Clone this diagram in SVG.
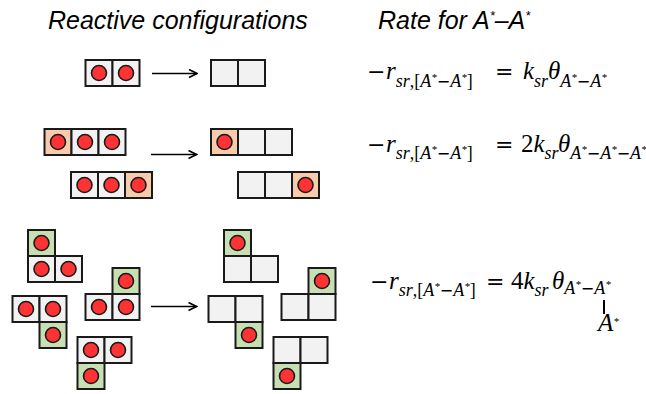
<svg xmlns="http://www.w3.org/2000/svg" width="646" height="394" viewBox="0 0 646 394">
  <defs>
    <style>
      .c { fill: #f2f2f2; stroke: #1a1a1a; stroke-width: 2; }
      .o { fill: #f8cbad; stroke: #1a1a1a; stroke-width: 2; }
      .g { fill: #c6e0b4; stroke: #1a1a1a; stroke-width: 2; }
      .d { fill: #ff3333; stroke: #1a1a1a; stroke-width: 1.6; }
      .arrow { stroke: #000; stroke-width: 1.6; fill: none; }
      .title { font-family: "Liberation Sans", Arial, sans-serif; font-style: italic; font-size: 25px; fill: #000; }
      .m { font-family: "Liberation Serif", "Times New Roman", serif; font-style: italic; font-size: 25px; fill: #000; }
      .up { font-style: normal; }
      .op { font-family: "DejaVu Sans", sans-serif; font-style: normal; font-size: 22px; }
      .sub { font-size: 18px; }
      .sub .op { font-size: 16px; }
      .st { font-size: 11px; }
      .bar { stroke: #000; stroke-width: 2; }
    </style>
    <marker id="head" viewBox="0 0 10 10" refX="9" refY="5" markerWidth="10" markerHeight="10" markerUnits="userSpaceOnUse" orient="auto">
      <path d="M1,1 L9,5 L1,9" fill="none" stroke="#000" stroke-width="1.6"/>
    </marker>
  </defs>

  <rect width="646" height="394" fill="#fff"/>

  <!-- column headings -->
  <text class="title" x="48" y="29">Reactive configurations</text>
  <text class="title" x="378" y="29">Rate for A<tspan font-size="13" dy="-9">*</tspan><tspan dy="9">–A</tspan><tspan font-size="13" dy="-9">*</tspan></text>

  <!-- row 1: pair -->
  <g id="pair-before">
    <rect class="c" x="85.5" y="60" width="27" height="26"/>
    <rect class="c" x="112.5" y="60" width="27" height="26"/>
    <circle class="d" cx="99" cy="73" r="7.5"/>
    <circle class="d" cx="126" cy="73" r="7.5"/>
  </g>
  <g id="pair-after">
    <rect class="c" x="211" y="60" width="27" height="26"/>
    <rect class="c" x="238" y="60" width="27" height="26"/>
  </g>

  <!-- row 2: chains of three -->
  <g id="chain-left-before">
    <rect class="o" x="44.5" y="129" width="27" height="26"/>
    <rect class="c" x="71.5" y="129" width="27" height="26"/>
    <rect class="c" x="98.5" y="129" width="27" height="26"/>
    <circle class="d" cx="58" cy="142" r="7.5"/>
    <circle class="d" cx="85" cy="142" r="7.5"/>
    <circle class="d" cx="112" cy="142" r="7.5"/>
  </g>
  <g id="chain-right-before">
    <rect class="c" x="71" y="172" width="27" height="26"/>
    <rect class="c" x="98" y="172" width="27" height="26"/>
    <rect class="o" x="125" y="172" width="27" height="26"/>
    <circle class="d" cx="84.5" cy="185" r="7.5"/>
    <circle class="d" cx="111.5" cy="185" r="7.5"/>
    <circle class="d" cx="138.5" cy="185" r="7.5"/>
  </g>
  <g id="chain-left-after">
    <rect class="o" x="211" y="129" width="27" height="26"/>
    <rect class="c" x="238" y="129" width="27" height="26"/>
    <rect class="c" x="265" y="129" width="27" height="26"/>
    <circle class="d" cx="224.5" cy="142" r="7.5"/>
  </g>
  <g id="chain-right-after">
    <rect class="c" x="238" y="172" width="27" height="26"/>
    <rect class="c" x="265" y="172" width="27" height="26"/>
    <rect class="o" x="292" y="172" width="27" height="26"/>
    <circle class="d" cx="305.5" cy="185" r="7.5"/>
  </g>

  <!-- row 3: L-shaped triples, before -->
  <g id="ell-1-before">
    <rect class="g" x="28" y="230" width="27" height="26"/>
    <rect class="c" x="28" y="256" width="27" height="26"/>
    <rect class="c" x="55" y="256" width="27" height="26"/>
    <circle class="d" cx="41.5" cy="243" r="7.5"/>
    <circle class="d" cx="41.5" cy="269" r="7.5"/>
    <circle class="d" cx="68.5" cy="269" r="7.5"/>
  </g>
  <g id="ell-2-before">
    <rect class="c" x="12.5" y="296" width="27" height="26"/>
    <rect class="c" x="39.5" y="296" width="27" height="26"/>
    <rect class="g" x="39.5" y="322" width="27" height="26"/>
    <circle class="d" cx="26" cy="309" r="7.5"/>
    <circle class="d" cx="53" cy="309" r="7.5"/>
    <circle class="d" cx="53" cy="335" r="7.5"/>
  </g>
  <g id="ell-3-before">
    <rect class="g" x="112.5" y="268" width="27" height="26"/>
    <rect class="c" x="85.5" y="294" width="27" height="26"/>
    <rect class="c" x="112.5" y="294" width="27" height="26"/>
    <circle class="d" cx="126" cy="281" r="7.5"/>
    <circle class="d" cx="99" cy="307" r="7.5"/>
    <circle class="d" cx="126" cy="307" r="7.5"/>
  </g>
  <g id="ell-4-before">
    <rect class="c" x="77.5" y="337" width="27" height="26"/>
    <rect class="c" x="104.5" y="337" width="27" height="26"/>
    <rect class="g" x="77.5" y="363" width="27" height="26"/>
    <circle class="d" cx="91" cy="350" r="7.5"/>
    <circle class="d" cx="118" cy="350" r="7.5"/>
    <circle class="d" cx="91" cy="376" r="7.5"/>
  </g>

  <!-- row 3: L-shaped triples, after -->
  <g id="ell-1-after">
    <rect class="g" x="224" y="230" width="27" height="26"/>
    <rect class="c" x="224" y="256" width="27" height="26"/>
    <rect class="c" x="251" y="256" width="27" height="26"/>
    <circle class="d" cx="237.5" cy="243" r="7.5"/>
  </g>
  <g id="ell-2-after">
    <rect class="c" x="208.5" y="296" width="27" height="26"/>
    <rect class="c" x="235.5" y="296" width="27" height="26"/>
    <rect class="g" x="235.5" y="322" width="27" height="26"/>
    <circle class="d" cx="249" cy="335" r="7.5"/>
  </g>
  <g id="ell-3-after">
    <rect class="g" x="308.5" y="268" width="27" height="26"/>
    <rect class="c" x="281.5" y="294" width="27" height="26"/>
    <rect class="c" x="308.5" y="294" width="27" height="26"/>
    <circle class="d" cx="322" cy="281" r="7.5"/>
  </g>
  <g id="ell-4-after">
    <rect class="c" x="273.5" y="337" width="27" height="26"/>
    <rect class="c" x="300.5" y="337" width="27" height="26"/>
    <rect class="g" x="273.5" y="363" width="27" height="26"/>
    <circle class="d" cx="287" cy="376" r="7.5"/>
  </g>

  <!-- reaction arrows -->
  <g id="connectors">
    <line class="arrow" x1="152" y1="73.5" x2="197" y2="73.5" marker-end="url(#head)"/>
    <line class="arrow" x1="151" y1="154.5" x2="196.5" y2="154.5" marker-end="url(#head)"/>
    <line class="arrow" x1="151" y1="306.5" x2="196.5" y2="306.5" marker-end="url(#head)"/>
  </g>

  <!-- rate expressions -->
  <g id="rate-pair">
    <text class="m" y="79"><tspan class="op" x="367">−</tspan><tspan x="386">r</tspan><tspan class="sub" y="86.5">sr<tspan class="up">,[</tspan>A<tspan class="st" dy="-6">*</tspan><tspan class="op" dy="6">−</tspan>A<tspan class="st" dy="-6">*</tspan><tspan class="up" dy="6">]</tspan></tspan><tspan class="op" x="495" y="79">=</tspan><tspan x="523">k</tspan><tspan class="sub" y="86.5">sr</tspan><tspan x="548" y="79">θ</tspan><tspan class="sub" y="86.5">A<tspan class="st" dy="-6">*</tspan><tspan class="op" dy="6">−</tspan>A<tspan class="st" dy="-6">*</tspan></tspan></text>
  </g>
  <g id="rate-chain">
    <text class="m" y="151.5"><tspan class="op" x="367">−</tspan><tspan x="386">r</tspan><tspan class="sub" y="159">sr<tspan class="up">,[</tspan>A<tspan class="st" dy="-6">*</tspan><tspan class="op" dy="6">−</tspan>A<tspan class="st" dy="-6">*</tspan><tspan class="up" dy="6">]</tspan></tspan><tspan class="op" x="495" y="151.5">=</tspan><tspan class="up" x="521">2</tspan><tspan>k</tspan><tspan class="sub" y="159">sr</tspan><tspan x="558" y="151.5">θ</tspan><tspan class="sub" y="159">A<tspan class="st" dy="-6">*</tspan><tspan class="op" dy="6">−</tspan>A<tspan class="st" dy="-6">*</tspan><tspan class="op" dy="6">−</tspan>A<tspan class="st" dy="-6">*</tspan></tspan></text>
  </g>
  <g id="rate-ell">
    <text class="m" y="288.5"><tspan class="op" x="370">−</tspan><tspan x="389">r</tspan><tspan class="sub" y="296">sr<tspan class="up">,[</tspan>A<tspan class="st" dy="-6">*</tspan><tspan class="op" dy="6">−</tspan>A<tspan class="st" dy="-6">*</tspan><tspan class="up" dy="6">]</tspan></tspan><tspan class="op" x="486" y="288.5">=</tspan><tspan class="up" x="511">4</tspan><tspan>k</tspan><tspan class="sub" y="296">sr</tspan><tspan x="552" y="288.5">θ</tspan><tspan class="sub" y="294">A<tspan class="st" dy="-6">*</tspan><tspan class="op" dy="6">−</tspan>A<tspan class="st" dy="-6">*</tspan></tspan></text>
    <line class="bar" x1="604" y1="300" x2="604" y2="314"/>
    <text class="m" font-size="18" x="598" y="331">A<tspan class="st" dy="-6">*</tspan></text>
  </g>
</svg>
